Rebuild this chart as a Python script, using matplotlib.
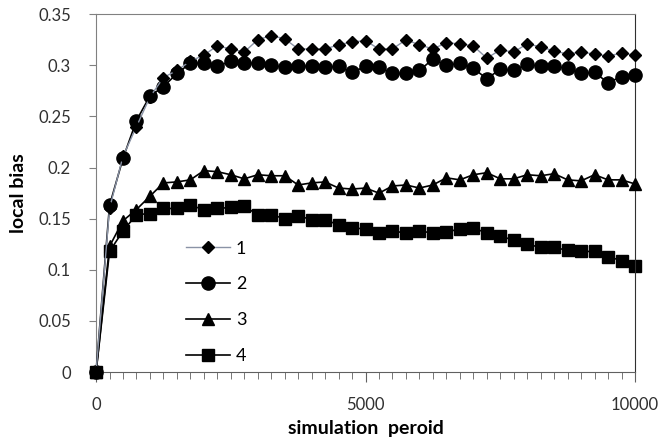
import matplotlib
matplotlib.use("Agg")
import matplotlib.pyplot as plt
import numpy as np

plt.rcParams['font.family'] = ['Lato', 'DejaVu Sans']

# simulation period, one point every 250
period = np.arange(0, 10001, 250)

bias_1 = [0, 0.160, 0.211, 0.240, 0.269, 0.288, 0.295, 0.304, 0.310, 0.319,
          0.316, 0.313, 0.325, 0.329, 0.326, 0.316, 0.316, 0.316, 0.320, 0.323,
          0.324, 0.316, 0.316, 0.325, 0.320, 0.316, 0.322, 0.321, 0.319, 0.307,
          0.315, 0.313, 0.321, 0.318, 0.314, 0.311, 0.313, 0.311, 0.309, 0.312,
          0.310]
bias_2 = [0, 0.163, 0.209, 0.246, 0.270, 0.279, 0.292, 0.302, 0.302, 0.299,
          0.304, 0.302, 0.302, 0.300, 0.298, 0.299, 0.299, 0.298, 0.299, 0.293,
          0.299, 0.298, 0.292, 0.292, 0.295, 0.306, 0.300, 0.302, 0.297, 0.287,
          0.296, 0.295, 0.301, 0.299, 0.299, 0.297, 0.292, 0.293, 0.283, 0.289,
          0.291]
bias_3 = [0, 0.123, 0.148, 0.159, 0.172, 0.185, 0.186, 0.188, 0.197, 0.196,
          0.193, 0.189, 0.193, 0.192, 0.192, 0.183, 0.185, 0.186, 0.180, 0.179,
          0.180, 0.175, 0.182, 0.183, 0.180, 0.183, 0.190, 0.188, 0.193, 0.195,
          0.189, 0.189, 0.193, 0.192, 0.194, 0.188, 0.187, 0.193, 0.188, 0.188,
          0.184]
bias_4 = [0, 0.118, 0.138, 0.154, 0.155, 0.160, 0.160, 0.163, 0.159, 0.160,
          0.161, 0.162, 0.154, 0.154, 0.150, 0.153, 0.149, 0.149, 0.144, 0.141,
          0.140, 0.136, 0.138, 0.136, 0.138, 0.136, 0.137, 0.140, 0.141, 0.136,
          0.133, 0.129, 0.125, 0.122, 0.122, 0.119, 0.118, 0.118, 0.113, 0.109,
          0.104]

labels = ['1', '2', '3', '4']

fig = plt.figure(figsize=(6.67, 4.43), dpi=100)
ax = fig.add_axes([0.144, 0.160, 0.808, 0.808])

ax.plot(period, bias_1, color='#8a93a6', linewidth=1.0, marker='D',
        markersize=6.5, markerfacecolor='black', markeredgecolor='black',
        label=labels[0], zorder=5, clip_on=False)
ax.plot(period, bias_2, color='black', linewidth=1.2, marker='o',
        markersize=9.5, markerfacecolor='black', markeredgecolor='black',
        label=labels[1], zorder=4, clip_on=False)
ax.plot(period, bias_3, color='black', linewidth=1.2, marker='^',
        markersize=8, markerfacecolor='black', markeredgecolor='black',
        label=labels[2], zorder=3, clip_on=False)
ax.plot(period, bias_4, color='black', linewidth=1.2, marker='s',
        markersize=8, markerfacecolor='black', markeredgecolor='black',
        label=labels[3], zorder=2, clip_on=False)

ax.set_xlim(0, 10000)
ax.set_ylim(0, 0.35)
ax.set_xticks([0, 5000, 10000])
ax.set_xticks(period, minor=True)
ax.set_yticks(np.arange(0, 0.351, 0.05))
ax.set_yticklabels(['0', '0.05', '0.1', '0.15', '0.2', '0.25', '0.3', '0.35'])
ax.tick_params(axis='both', labelsize=12, colors='#303030', direction='out')
ax.tick_params(axis='x', which='major', length=7, pad=11, color='#606060')
ax.tick_params(axis='x', which='minor', length=5, color='#606060')
ax.tick_params(axis='y', length=5, pad=13, color='#808080')

for side in ['left', 'top']:
    ax.spines[side].set_color('#808080')
ax.spines['bottom'].set_color('#606060')
ax.spines['right'].set_color('#303030')

ax.set_xlabel('simulation  peroid', fontsize=14, fontweight='bold', labelpad=5)
ax.set_ylabel('local bias', fontsize=14, fontweight='bold', labelpad=8)

ax.legend(loc='upper left', bbox_to_anchor=(0.137, 0.413), frameon=False,
          fontsize=13, handlelength=2.45, labelspacing=1.1, handletextpad=0.3)

fig.savefig('out.png', dpi=100)
